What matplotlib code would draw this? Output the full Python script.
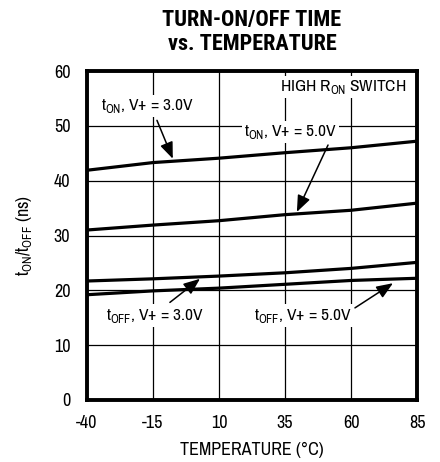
import matplotlib
matplotlib.use("Agg")
import matplotlib.pyplot as plt
from matplotlib import font_manager as fm

# Temperature sweep (°C) and switching times (ns)
temperature = [-40, -15, 10, 35, 60, 85]
t_on_3v = [41.9, 43.3, 44.1, 45.1, 46.0, 47.2]
t_on_5v = [31.0, 31.9, 32.7, 33.8, 34.6, 35.9]
t_off_3v = [21.7, 22.1, 22.6, 23.2, 24.0, 25.1]
t_off_5v = [19.2, 19.9, 20.4, 21.1, 21.8, 22.2]

x_ticks = [-40, -15, 10, 35, 60, 85]
y_ticks = [0, 10, 20, 30, 40, 50, 60]


def pick(candidates):
    available = {f.name for f in fm.fontManager.ttflist}
    for name in candidates:
        if name in available:
            return name
    return "DejaVu Sans"


BODY = pick(["Archivo Narrow", "Roboto Condensed", "PT Sans Narrow", "Liberation Sans Narrow"])
HEAD = pick(["Roboto Condensed", "Archivo Narrow", "PT Sans Narrow"])

plt.rcParams["font.family"] = [BODY, "DejaVu Sans"]
plt.rcParams["mathtext.fontset"] = "custom"
plt.rcParams["mathtext.rm"] = BODY
plt.rcParams["axes.unicode_minus"] = False

fig = plt.figure(figsize=(4.4, 4.62), dpi=100)
ax = fig.add_axes([87 / 440, 62 / 462, 330 / 440, 329 / 462])

ax.set_xlim(-40, 85)
ax.set_ylim(0, 60)
ax.set_xticks(x_ticks)
ax.set_yticks(y_ticks)
ax.tick_params(length=0, labelsize=13)
ax.tick_params(axis="x", pad=11)
ax.tick_params(axis="y", pad=12)
ax.grid(True, color="black", linewidth=0.9)
ax.set_axisbelow(True)
for sp in ax.spines.values():
    sp.set_linewidth(2.8)

for series in (t_on_3v, t_on_5v, t_off_3v, t_off_5v):
    ax.plot(temperature, series, color="black", linewidth=2.3, zorder=3)

box = dict(facecolor="white", edgecolor="none", pad=1.5)
label_kw = dict(fontsize=12.5, ha="center", va="center", bbox=box, zorder=4)
arrow_kw = dict(arrowstyle="-|>,head_length=1.0,head_width=0.4",
                color="black", linewidth=1.1, shrinkA=0, shrinkB=0)

ax.text(57, 57.1, r"HIGH R$_\mathregular{ON}$ SWITCH", **label_kw)

ax.text(-17, 53.6, r"t$_\mathregular{ON}$, V+ = 3.0V", **label_kw)
ax.annotate("", xy=(-7.5, 44.0), xytext=(-13.5, 51.0), arrowprops=arrow_kw, zorder=4)

ax.text(37, 48.9, r"t$_\mathregular{ON}$, V+ = 5.0V", **label_kw)
ax.annotate("", xy=(39.5, 34.3), xytext=(51.3, 46.5), arrowprops=arrow_kw, zorder=4)

ax.text(-14.2, 15.4, r"t$_\mathregular{OFF}$, V+ = 3.0V", **label_kw)
ax.annotate("", xy=(2.8, 22.1), xytext=(-8.6, 17.8), arrowprops=arrow_kw, zorder=4)

ax.text(41.8, 15.4, r"t$_\mathregular{OFF}$, V+ = 5.0V", **label_kw)
ax.annotate("", xy=(75.9, 21.3), xytext=(61.5, 16.8), arrowprops=arrow_kw, zorder=4)

ax.set_xlabel("TEMPERATURE (°C)", fontsize=13, labelpad=8)
ax.set_ylabel(r"t$_\mathregular{ON}$/t$_\mathregular{OFF}$ (ns)", fontsize=13, labelpad=14)

fig.text(252 / 440, 1 - 32 / 462, "TURN-ON/OFF TIME\nvs. TEMPERATURE",
         ha="center", va="center", fontsize=16, fontweight="black",
         family=[HEAD, "DejaVu Sans"], linespacing=1.15)

fig.savefig("out.png", dpi=100)
